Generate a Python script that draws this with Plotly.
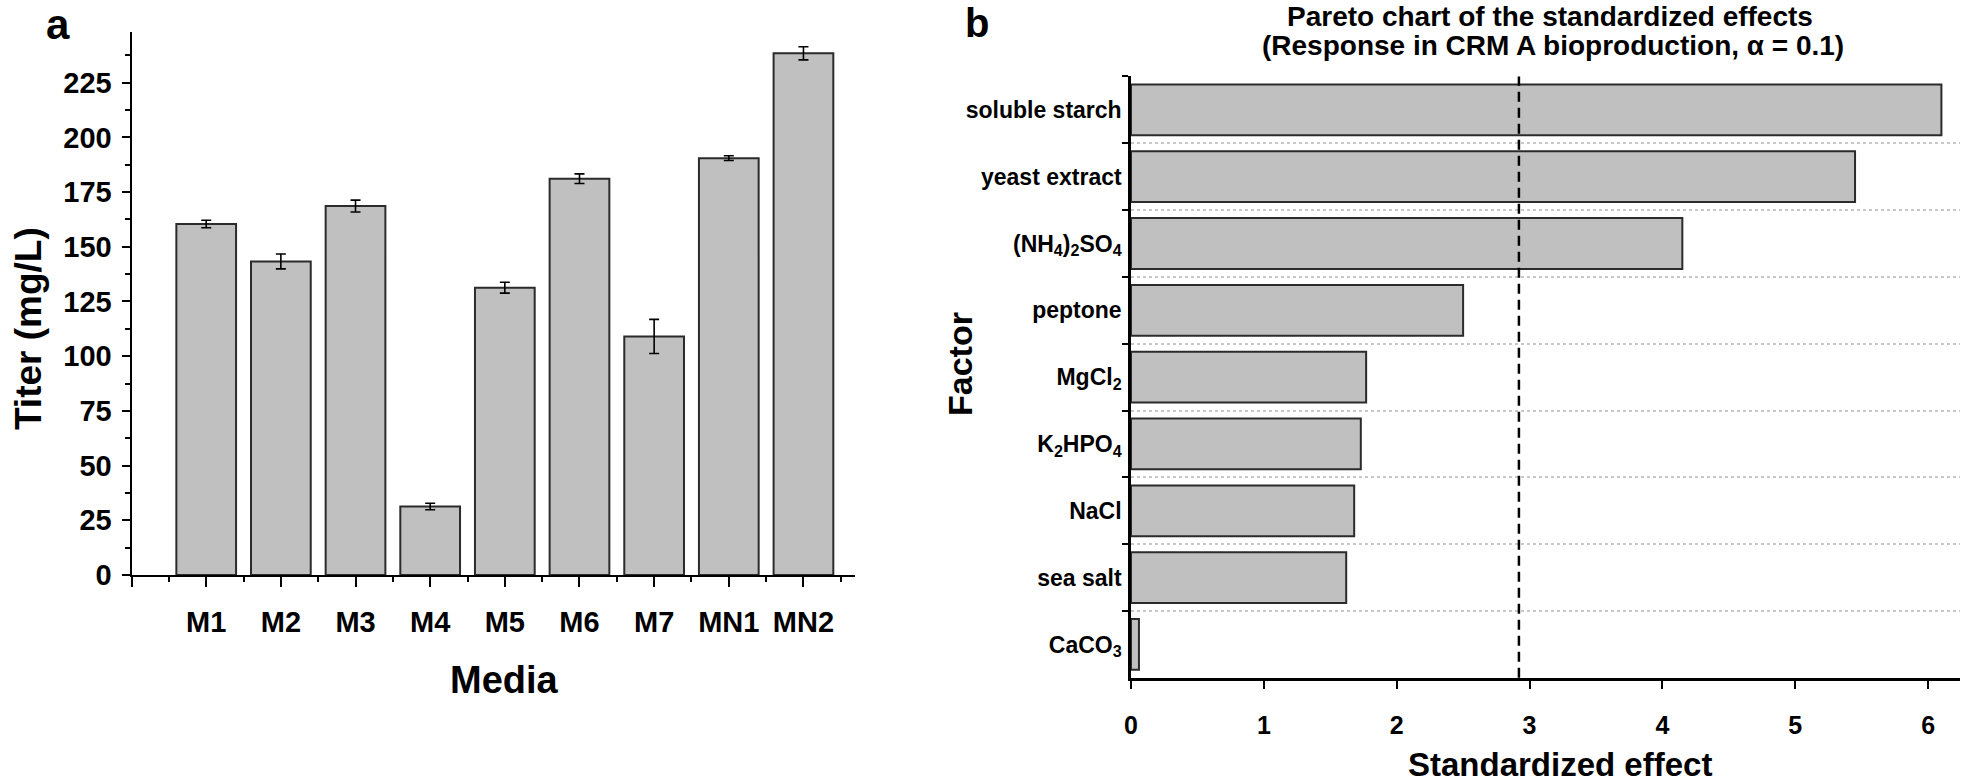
import plotly.graph_objects as go

# ---------------- data ----------------
media = ["M1", "M2", "M3", "M4", "M5", "M6", "M7", "MN1", "MN2"]
titer = [160.4, 143.3, 168.6, 31.3, 131.3, 181.1, 109.0, 190.5, 238.4]
titer_err = [1.7, 3.4, 2.7, 1.5, 2.5, 2.2, 7.8, 1.1, 3.0]

factors = [
    "soluble starch",
    "yeast extract",
    "(NH<sub>4</sub>)<sub>2</sub>SO<sub>4</sub>",
    "peptone",
    "MgCl<sub>2</sub>",
    "K<sub>2</sub>HPO<sub>4</sub>",
    "NaCl",
    "sea salt",
    "CaCO<sub>3</sub>",
]
effects = [6.10, 5.45, 4.15, 2.50, 1.77, 1.73, 1.68, 1.62, 0.06]
critical_value = 2.92

titer_ticks = [0, 25, 50, 75, 100, 125, 150, 175, 200, 225]
effect_ticks = [0, 1, 2, 3, 4, 5, 6]

# ---------------- style ----------------
W, H = 1962, 783
FONT = "Liberation Sans, Arial, sans-serif"
BAR_FILL = "#c0c0c0"
BAR_LINE = "#2b2b2b"


def px_x(p):
    return p / W


def px_y(p):
    return 1 - p / H


media_pos = [i + 1 for i in range(len(media))]

fig = go.Figure()

fig.add_trace(go.Bar(
    x=media_pos, y=titer, width=0.8,
    marker=dict(color=BAR_FILL, line=dict(color=BAR_LINE, width=2)),
    error_y=dict(type="data", array=titer_err, color="black", thickness=1.6, width=5),
    xaxis="x", yaxis="y", showlegend=False, hoverinfo="x+y",
))

fig.add_trace(go.Bar(
    x=effects, y=factors, orientation="h", width=0.76,
    marker=dict(color=BAR_FILL, line=dict(color=BAR_LINE, width=2)),
    xaxis="x2", yaxis="y2", showlegend=False,
))

fig.add_shape(
    type="line", x0=critical_value, x1=critical_value, xref="x2",
    y0=0, y1=1, yref="y2 domain",
    line=dict(color="black", width=2.5, dash="10px,6px"),
)

tick_font_a = dict(family=FONT, size=29, color="black", weight="bold")
tick_font_b = dict(family=FONT, size=25, color="black", weight="bold")
cat_font_b = dict(family=FONT, size=23, color="black", weight="bold")

fig.update_layout(
    width=W, height=H,
    margin=dict(l=0, r=0, t=0, b=0),
    paper_bgcolor="white", plot_bgcolor="white",
    bargap=0.2,
    xaxis=dict(
        domain=[px_x(125), px_x(851)], anchor="y",
        range=[0, 9.69],
        tickvals=[0] + media_pos, ticktext=[" "] + media,
        ticks="outside", ticklen=10, tickwidth=2, tickcolor="black",
        minor=dict(tick0=0.5, dtick=1, ticks="outside", ticklen=5, tickwidth=2, tickcolor="black"),
        showline=True, linecolor="black", linewidth=2,
        showgrid=False, zeroline=False,
        tickfont=tick_font_a, ticklabelstandoff=10,
    ),
    yaxis=dict(
        domain=[px_y(587), px_y(33)], anchor="x",
        range=[0, 248],
        tickvals=titer_ticks,
        ticks="outside", ticklen=8, tickwidth=2, tickcolor="black",
        minor=dict(tick0=0, dtick=12.5, ticks="outside", ticklen=5, tickwidth=2, tickcolor="black"),
        showline=True, linecolor="black", linewidth=2,
        showgrid=False, zeroline=False,
        tickfont=tick_font_a, ticklabelstandoff=4,
    ),
    xaxis2=dict(
        domain=[px_x(1128), px_x(1960)], anchor="y2",
        range=[0, 6.24],
        tickvals=effect_ticks,
        ticks="outside", ticklen=8, tickwidth=2, tickcolor="black",
        showline=True, linecolor="black", linewidth=2.5,
        showgrid=False, zeroline=False,
        tickfont=tick_font_b, ticklabelstandoff=15,
    ),
    yaxis2=dict(
        domain=[px_y(692), px_y(78)], anchor="x2",
        type="category", categoryorder="array", categoryarray=factors,
        range=[len(factors) - 0.5, -0.5],
        tickson="boundaries",
        ticks="outside", ticklen=6, tickwidth=2, tickcolor="black",
        showline=True, linecolor="black", linewidth=2.5,
        showgrid=True, gridcolor="#c8c8c8", gridwidth=1.5, griddash="dot",
        zeroline=False,
        tickfont=cat_font_b, ticklabelstandoff=2,
    ),
)


def note(text, x, y, size, angle=0, yanchor="middle"):
    fig.add_annotation(
        text=text, x=px_x(x), y=px_y(y), xref="paper", yref="paper",
        xanchor="center", yanchor=yanchor, showarrow=False, textangle=angle,
        borderpad=0,
        font=dict(family=FONT, size=size, color="black", weight="bold"),
    )


note("a", 51, 0, 42, yanchor="top")
note("b", 973, 0, 40, yanchor="top")
note("Titer (mg/L)", 21, 335, 37, angle=-90)
note("Media", 499, 694, 38)
note("Factor", 957, 372, 34, angle=-90)
note("Standardized effect", 1559, 780, 33)
note("Pareto chart of the standardized effects", 1549, 0, 28, yanchor="top")
note("(Response in CRM A bioproduction, α = 0.1)", 1552, 46, 28)

fig.write_html(
    "out.html",
    config={"displayModeBar": False},
    post_script="document.body.style.margin='0px';",
)
